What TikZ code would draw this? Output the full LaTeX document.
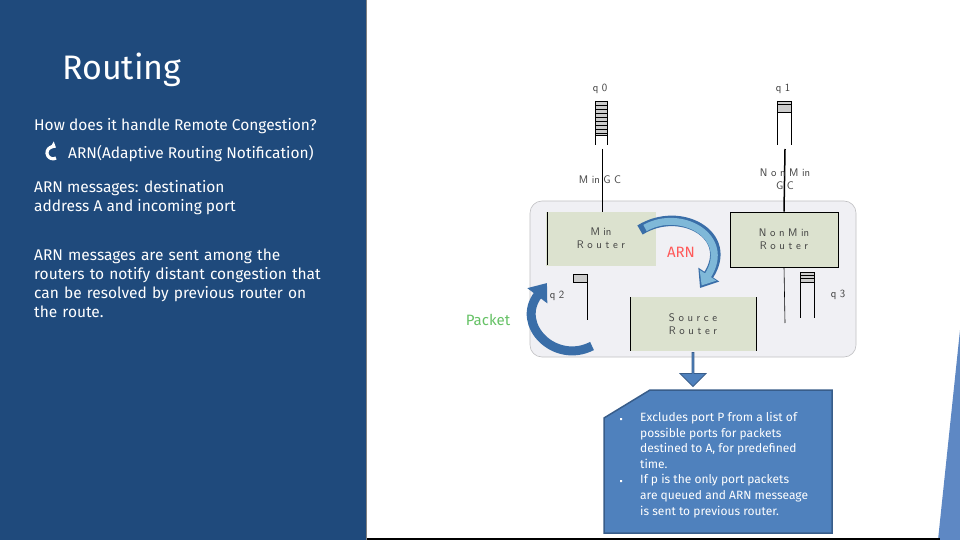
\documentclass[tikz,border=0pt]{standalone}
\usepackage{fontspec}
\setmainfont{Fira Sans}
\usetikzlibrary{arrows.meta,shapes.arrows}
\definecolor{panel}{HTML}{1F4A7C}
\definecolor{stripe}{HTML}{5E88C4}
\definecolor{rbox}{HTML}{DCE2CF}
\definecolor{cont}{HTML}{F0F0F4}
\definecolor{callout}{HTML}{4F81BD}
\definecolor{callline}{HTML}{385D8A}
\definecolor{arnblue}{HTML}{3A6EA8}
\definecolor{arnlight}{HTML}{7FB8D8}
\begin{document}
\begin{tikzpicture}[x=1pt,y=-1pt,
  lt/.style={text=white,font=\fontsize{15.5}{19}\selectfont,anchor=base west,inner sep=0},
  dg/.style={font=\sffamily\fontsize{11}{13}\selectfont,text=black!75,inner sep=0,align=center},
  rb/.style={fill=rbox,draw=none},
  q/.style={draw=black,line width=0.6pt},
  blk/.style={line width=9pt,-{Triangle[length=14pt,width=22pt]}}]
\useasboundingbox (0,0) rectangle (960,540);
\fill[white] (0,0) rectangle (960,540);
\fill[panel] (0,0) rectangle (366,540);
\fill[stripe] (960,330) -- (960,540) -- (938,540) -- cycle;
\draw[black,line width=2pt] (366,539) -- (940,539);
\draw[black!50,line width=0.6pt] (366,0) -- (366,540);
% left text
\node[text=white,font=\fontsize{34}{38}\selectfont,anchor=base west,inner sep=0] (title) at (62,80) {Routing};
\node[lt] (t1) at (34,131) {How does it handle Remote Congestion?};
\draw[white,line width=3.2pt,-{Triangle[length=5pt,width=8pt]}] (56,158) arc[start angle=-60,end angle=-300,radius=6pt] ;
\node[lt] (t2) at (68,159) {ARN(Adaptive Routing Notification)};
\node[lt,align=left,anchor=north west] (t3) at (34,180) {ARN messages: destination\\address A and incoming port};
\node[lt,align=left,anchor=north west,text width=330pt] (t4) at (34,249) {ARN messages are sent among the\\routers to notify distant congestion that\\can be resolved by previous router on\\the route.};
% container
\draw[cont!80!black,fill=cont,rounded corners=12pt,line width=0.6pt] (530,201) rectangle (856,357);
\node[rb,minimum width=110pt,minimum height=54pt] (minr) at (601,238.5) {};
\node[dg] at (minr) {M in\\R o u t e r};
\draw[q] (547,212) -- (547,265);
\node[rb,draw=black,line width=0.6pt,minimum width=108pt,minimum height=55pt] (nonr) at (784,239.5) {};
\node[dg] at (nonr) {N o n M in\\R o u t e r};
\node[rb,minimum width=126pt,minimum height=54pt] (src) at (693,324) {};
\node[dg] at (src) {S o u r c e\\R o u t e r};
\draw[q] (630,297) -- (630,351) (756,297) -- (756,351);
% q0
\node[dg] (q0) at (600,89) {q 0};
\fill[black!20] (595,101) rectangle (607,135);
\foreach \y in {101,105,109,113,117,121,125,129,133,135} \draw[black,line width=0.4pt] (595,\y) -- (607,\y);
\draw[q] (595,101) -- (595,145) (607,101) -- (607,145);
\coordinate (q0b) at (602,149);
\draw[q] (q0b) -- (602,212);
\node[dg] (mgc) at (600,180) {M in  G C};
% q1
\node[dg] (q1) at (783,89) {q 1};
\fill[black!20] (777,101) rectangle (791,112);
\draw[black,line width=0.4pt] (777,101) -- (791,101) (777,104) -- (791,104) (777,112) -- (791,112);
\draw[q] (777,101) -- (777,145) (791,101) -- (791,145);
\coordinate (q1b) at (785,149);
\draw[black,line width=1.5pt] (q1b) -- (nonr.north);
\node[dg] (ngc) at (785,179) {N o n M in\\G C};
% q2
\node[dg] (q2) at (557,296) {q 2};
\fill[black!20,draw=black,line width=0.4pt] (573,274) rectangle (587,282);
\draw[q] (587,274) -- (587,320);
% q3
\node[dg] (q3) at (838,295) {q 3};
\fill[black!20] (800,272) rectangle (814,282);
\draw[black,line width=0.4pt] (800,272) -- (814,272) (800,275) -- (814,275) (800,278) -- (814,278) (800,282) -- (814,282);
\draw[q] (800,272) -- (800,318) (814,272) -- (814,318);
\draw[q] (nonr.south) -- (785,323);
% arrows
\draw[arnblue,line width=10.5pt,-{Triangle[length=16pt,width=24pt]}] (640,230) .. controls (680,205) and (735,235) .. (700,288);
\draw[arnlight,line width=7pt,shorten >=3pt,-{Triangle[length=12pt,width=19pt]}] (645,228) .. controls (680,208) and (733,236) .. (700,288);
\node[text=red!65!white,font=\fontsize{15}{17}\selectfont,inner sep=0] (arn) at (681,252) {ARN};
\draw[arnblue,line width=9pt,-{Triangle[length=16pt,width=24pt]}] (592,346) .. controls (555,365) and (515,325) .. (547,283);
\node[text=green!60!black!60!white,font=\fontsize{15}{17}\selectfont,inner sep=0] (pk) at (488,320) {Packet};
\node[single arrow,fill=callout,draw=callline,line width=0.8pt,shape border rotate=270,minimum height=34pt,minimum width=26pt,single arrow head extend=5pt,inner sep=0] (dn) at (693,369) {};
% callout
\draw[fill=callout,draw=callline,line width=1.5pt] (650,390) -- (832,390) -- (832,533) -- (604,533) -- (604,418) -- cycle;
\node[text=white,font=\fontsize{12}{15.6}\selectfont,anchor=north west,inner sep=0,align=left] (cl) at (640,412) {Excludes port P from a list of\\possible ports for packets\\destined to A, for predefined\\time.\\If p is the only port packets\\are queued and ARN messeage\\is sent to previous router.};
\fill[white] (620,418) rectangle (622,420) (620,480) rectangle (622,482);
\end{tikzpicture}
\end{document}
